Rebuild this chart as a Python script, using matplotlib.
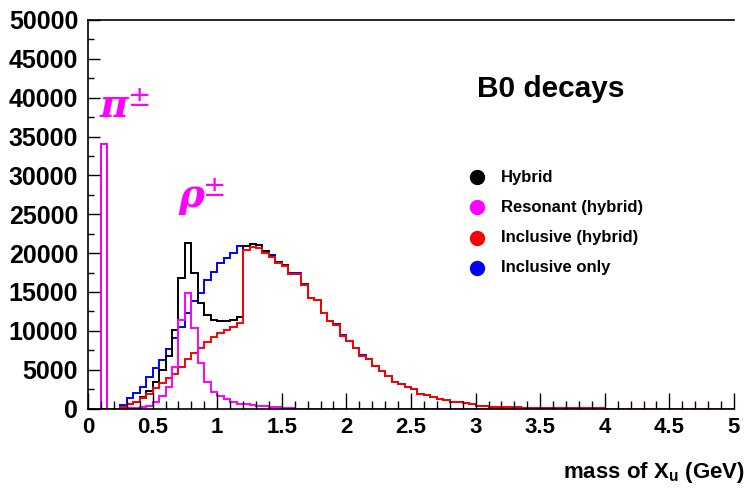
import matplotlib
matplotlib.use("Agg")
import matplotlib.pyplot as plt
import numpy as np
from matplotlib.ticker import MultipleLocator, FuncFormatter

plt.rcParams['font.family'] = ['Liberation Sans', 'DejaVu Sans']
plt.rcParams['font.weight'] = 'bold'
plt.rcParams['mathtext.fontset'] = 'custom'
plt.rcParams['mathtext.rm'] = 'Liberation Sans:bold'
plt.rcParams['mathtext.default'] = 'rm'

# 100 bins of 50 MeV from 0 to 5 GeV
edges = np.linspace(0, 5, 101)

hybrid = [0, 0, 34100, 0, 0, 200, 580, 860, 1450, 2300,
          3380, 4950, 6750, 10050, 16740, 21250, 17460, 13550, 12010, 11400,
          11280, 11250, 11450, 11750, 20900, 21230, 21050, 20260, 19690, 18850,
          18450, 17340, 17300, 15950, 14200, 13900, 12300, 11250, 10800, 9350,
          8700, 7750, 6800, 6350, 5480, 4800, 4150, 3430, 3130, 2780,
          2460, 1930, 1760, 1460, 1250, 1070, 900, 850, 680, 520,
          360, 280, 250, 180, 170, 130, 130, 90, 60, 50,
          40, 30, 20, 20, 10, 10, 30, 30, 10, 10,
          0, 0, 0, 0, 0, 0, 0, 0, 0, 0,
          0, 0, 0, 0, 0, 0, 0, 0, 0, 0]

resonant = [0, 0, 34100, 0, 0, 0, 30, 60, 150, 340,
            780, 1620, 2780, 5400, 11370, 14890, 10380, 5800, 3430, 2140,
            1580, 1160, 850, 640, 515, 420, 350, 300, 250, 180,
            120, 40, 0, 0, 0, 0, 0, 0, 0, 0,
            0, 0, 0, 0, 0, 0, 0, 0, 0, 0,
            0, 0, 0, 0, 0, 0, 0, 0, 0, 0,
            0, 0, 0, 0, 0, 0, 0, 0, 0, 0,
            0, 0, 0, 0, 0, 0, 0, 0, 0, 0,
            0, 0, 0, 0, 0, 0, 0, 0, 0, 0,
            0, 0, 0, 0, 0, 0, 0, 0, 0, 0]

inclusive_hybrid = [0, 0, 0, 0, 0, 250, 550, 800, 1290, 1930,
                    2580, 3300, 3940, 4500, 5360, 6400, 7080, 7730, 8580, 9220,
                    9660, 10080, 10510, 11030, 20380, 20810, 20700, 19960, 19440, 18670,
                    18330, 17300, 17300, 15950, 14200, 13900, 12300, 11250, 10800, 9350,
                    8700, 7750, 6800, 6350, 5480, 4800, 4150, 3430, 3130, 2780,
                    2460, 1930, 1760, 1460, 1250, 1070, 900, 850, 680, 520,
                    360, 280, 250, 180, 170, 130, 130, 90, 60, 50,
                    40, 30, 20, 20, 10, 10, 30, 30, 10, 10,
                    0, 0, 0, 0, 0, 0, 0, 0, 0, 0,
                    0, 0, 0, 0, 0, 0, 0, 0, 0, 0]

inclusive_only = [0, 0, 0, 0, 0, 450, 1330, 1970, 2780, 4030,
                  5170, 6270, 7690, 9010, 10510, 12230, 13780, 14850, 16520, 17590,
                  18670, 19310, 20060, 20860, 20950, 21150, 21000, 20300, 19700, 18900,
                  18500, 17400, 17400, 16050, 14250, 13950, 12350, 11300, 10850, 9400,
                  8750, 7800, 6850, 6400, 5520, 4850, 4180, 3460, 3150, 2800,
                  2460, 1930, 1760, 1460, 1250, 1070, 900, 850, 680, 520,
                  360, 280, 250, 180, 170, 130, 130, 90, 60, 50,
                  40, 30, 20, 20, 10, 10, 30, 30, 10, 10,
                  0, 0, 0, 0, 0, 0, 0, 0, 0, 0,
                  0, 0, 0, 0, 0, 0, 0, 0, 0, 0]

series = [("Inclusive only", inclusive_only, "#0000ff"),
          ("Hybrid", hybrid, "#000000"),
          ("Inclusive (hybrid)", inclusive_hybrid, "#ff0000"),
          ("Resonant (hybrid)", resonant, "#ff00ff")]
legend_order = ["Hybrid", "Resonant (hybrid)", "Inclusive (hybrid)", "Inclusive only"]

W, H = 754, 493
fig = plt.figure(figsize=(W / 100, H / 100), dpi=100)
ax = fig.add_axes([88 / W, 1 - 408.5 / H, (734 - 88) / W, (408.5 - 20) / H])

for name, vals, col in series:
    ax.stairs(vals, edges, color=col, lw=1.4, baseline=0)

ax.set_xlim(0, 5)
ax.set_ylim(0, 50000)
ax.xaxis.set_major_locator(MultipleLocator(0.5))
ax.xaxis.set_minor_locator(MultipleLocator(0.1))
ax.yaxis.set_major_locator(MultipleLocator(5000))
ax.yaxis.set_minor_locator(MultipleLocator(2500))
ax.xaxis.set_major_formatter(FuncFormatter(lambda v, p: "%g" % v))
ax.yaxis.set_major_formatter(FuncFormatter(lambda v, p: "%d" % v))
ax.tick_params(direction='in', which='both', top=False, right=False, width=1.0)
ax.xaxis.set_tick_params(which='major', length=11.5, pad=6, labelsize=16)
ax.xaxis.set_tick_params(which='minor', length=5.8)
ax.yaxis.set_tick_params(which='major', length=8.6, pad=7, labelsize=18)
ax.yaxis.set_tick_params(which='minor', length=4.3)
ax.spines['right'].set_visible(False)
for s in ('left', 'bottom', 'top'):
    ax.spines[s].set_linewidth(1.2)


def px(x, y):
    return x / W, 1 - y / H


fig.text(*px(745, 478), r'mass of X$_{\rm u}$ (GeV)', ha='right', va='baseline', fontsize=16)
fig.text(*px(477, 97), 'B0 decays', ha='left', va='baseline', fontsize=21.5)

colors = {n: c for n, _, c in series}
for k, name in enumerate(legend_order):
    yy = 177 + k * 30.3
    fig.lines.append(plt.Line2D([477 / W], [1 - yy / H], marker='o', ms=10,
                                color=colors[name], transform=fig.transFigure))
    fig.text(*px(501, yy), name, ha='left', va='center', fontsize=12)

mag = '#ff00ff'
fig.text(*px(100, 117), 'π', color=mag, fontsize=28, family='DejaVu Serif',
         style='italic', weight='bold', ha='left', va='baseline')
fig.text(*px(128, 84), '±', color=mag, fontsize=20, family='DejaVu Sans',
         weight='normal', ha='left', va='top')
fig.text(*px(178, 207), 'ρ', color=mag, fontsize=28, family='DejaVu Serif',
         style='italic', weight='bold', ha='left', va='baseline')
fig.text(*px(203, 174), '±', color=mag, fontsize=20, family='DejaVu Sans',
         weight='normal', ha='left', va='top')

fig.savefig('out.png', dpi=100)
